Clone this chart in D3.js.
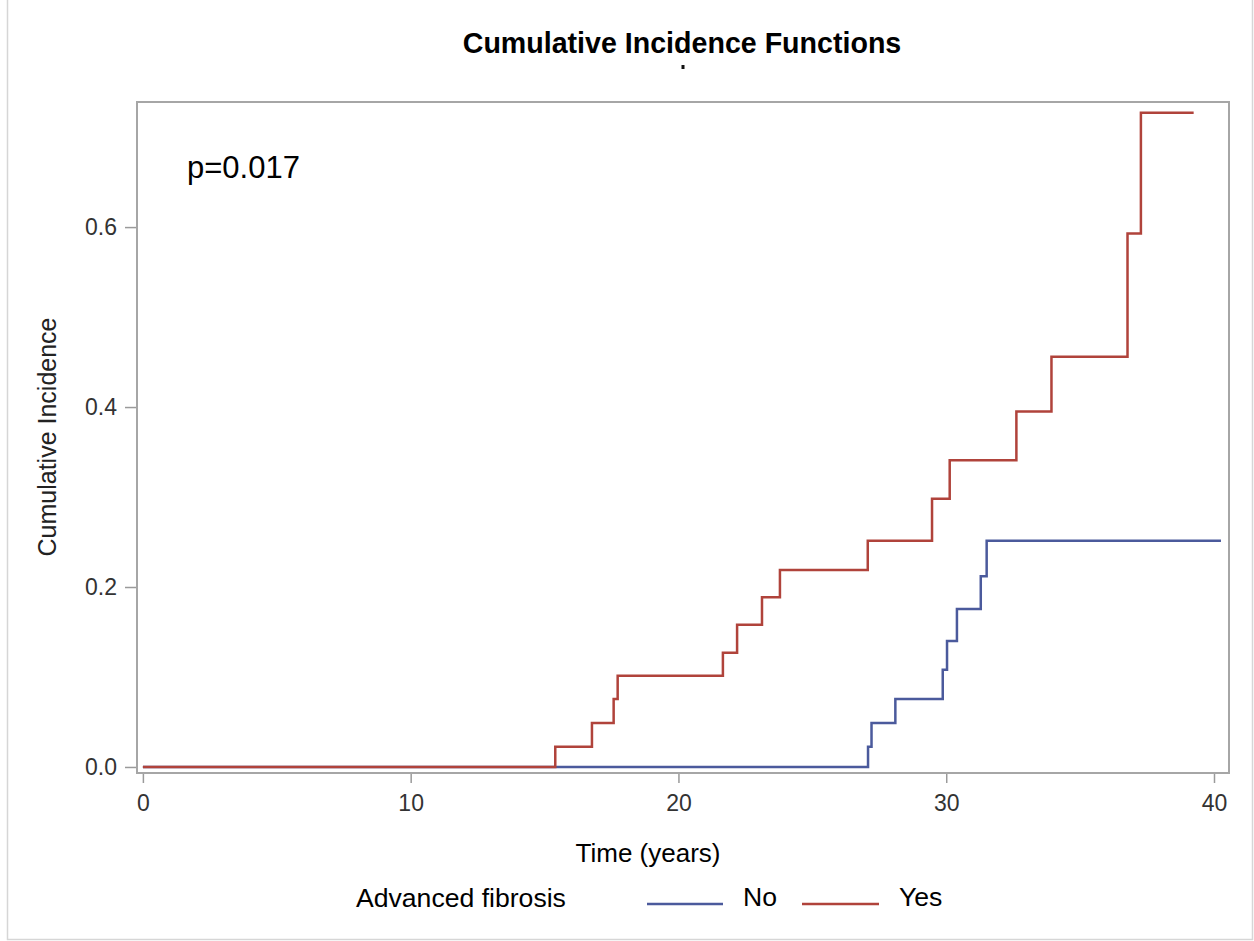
<!DOCTYPE html>
<html>
<head>
<meta charset="utf-8">
<script src="https://cdn.jsdelivr.net/npm/d3@7"></script>
<style>
  body { margin: 0; background: #fff; }
  text { font-family: "Liberation Sans", Arial, sans-serif; }
</style>
</head>
<body>
<div id="container"></div>
<script>
// Cumulative incidence, group "Yes" (advanced fibrosis)
const yesTimes  = [0, 15.4, 16.77, 17.58, 17.73, 21.66, 22.19, 23.12, 23.79, 27.07, 29.47, 30.13, 32.62, 33.93, 36.77, 37.27, 39.24];
const yesValues = [0, 0.0226, 0.049, 0.0756, 0.1015, 0.127, 0.158, 0.1885, 0.219, 0.2515, 0.298, 0.341, 0.395, 0.456, 0.593, 0.727, 0.727];
// group "No"
const noTimes  = [0, 27.08, 27.21, 28.1, 29.87, 30.03, 30.4, 31.29, 31.51, 40.26];
const noValues = [0, 0.0226, 0.049, 0.0756, 0.108, 0.140, 0.1756, 0.212, 0.2515, 0.2515];

const xTicks = [0, 10, 20, 30, 40];
const yTicks = [0, 0.2, 0.4, 0.6];
const groups = ['No', 'Yes'];
const colors = {No: '#4b5a9c', Yes: '#b0433b'};

const width = 1254, height = 941;
const plotLeft = 137, plotRight = 1229, plotTop = 102, plotBottom = 773;

const svg = d3.select('#container')
  .append('svg')
  .attr('width', width)
  .attr('height', height);

// outer frame
svg.append('path')
  .attr('d', `M7.5,0 V939.5 H1252.5 V0`)
  .attr('fill', 'none')
  .attr('stroke', '#d6d6d6')
  .attr('stroke-width', 1.5);

const x = d3.scaleLinear().domain([-0.22, 40.56]).range([plotLeft, plotRight]);
const y = d3.scaleLinear().domain([-0.0067, 0.739]).range([plotBottom, plotTop]);

// x axis
const gx = svg.append('g')
  .attr('transform', `translate(0,${plotBottom})`)
  .call(d3.axisBottom(x).tickValues(xTicks).tickSize(10).tickPadding(12).tickFormat(d3.format('d')));
gx.select('.domain').remove();
gx.selectAll('line').attr('stroke', '#9a9a9a').attr('stroke-width', 1.5);
gx.selectAll('text').attr('font-size', 23).attr('fill', '#333');

// y axis
const gy = svg.append('g')
  .attr('transform', `translate(${plotLeft},0)`)
  .call(d3.axisLeft(y).tickValues(yTicks).tickSize(12).tickPadding(8).tickFormat(d3.format('.1f')));
gy.select('.domain').remove();
gy.selectAll('line').attr('stroke', '#9a9a9a').attr('stroke-width', 1.5);
gy.selectAll('text').attr('font-size', 23).attr('fill', '#333');

// plot frame
svg.append('rect')
  .attr('x', plotLeft).attr('y', plotTop)
  .attr('width', plotRight - plotLeft).attr('height', plotBottom - plotTop)
  .attr('fill', 'none')
  .attr('stroke', '#a6a6a6')
  .attr('stroke-width', 2);

const line = d3.line()
  .x(d => x(d[0]))
  .y(d => y(d[1]))
  .curve(d3.curveStepAfter);

svg.append('path')
  .datum(noTimes.map((t, i) => [t, noValues[i]]))
  .attr('d', line)
  .attr('fill', 'none')
  .attr('stroke', colors.No)
  .attr('stroke-width', 2.5);

svg.append('path')
  .datum(yesTimes.map((t, i) => [t, yesValues[i]]))
  .attr('d', line)
  .attr('fill', 'none')
  .attr('stroke', colors.Yes)
  .attr('stroke-width', 2.5);

// title
svg.append('text')
  .attr('x', 682).attr('y', 53)
  .attr('text-anchor', 'middle')
  .attr('font-size', 28.6)
  .attr('font-weight', 'bold')
  .text('Cumulative Incidence Functions');
svg.append('rect')
  .attr('x', 681.5).attr('y', 65).attr('width', 3).attr('height', 4).attr('fill', '#111');

// p value
svg.append('text')
  .attr('x', 187).attr('y', 178)
  .attr('font-size', 31)
  .text('p=0.017');

// axis labels
svg.append('text')
  .attr('transform', 'translate(56,437) rotate(-90)')
  .attr('text-anchor', 'middle')
  .attr('font-size', 25)
  .attr('fill', '#222')
  .text('Cumulative Incidence');

svg.append('text')
  .attr('x', 648).attr('y', 862)
  .attr('text-anchor', 'middle')
  .attr('font-size', 26)
  .text('Time (years)');

// legend
svg.append('text')
  .attr('x', 356).attr('y', 907)
  .attr('font-size', 26.6)
  .text('Advanced fibrosis');

const legendPos = {No: {x1: 647, x2: 723, tx: 743}, Yes: {x1: 802, x2: 879, tx: 899}};
groups.forEach(g => {
  svg.append('line')
    .attr('x1', legendPos[g].x1).attr('x2', legendPos[g].x2)
    .attr('y1', 904).attr('y2', 904)
    .attr('stroke', colors[g])
    .attr('stroke-width', 2.5);
  svg.append('text')
    .attr('x', legendPos[g].tx).attr('y', 906)
    .attr('font-size', 26.6)
    .text(g);
});
</script>
</body>
</html>
